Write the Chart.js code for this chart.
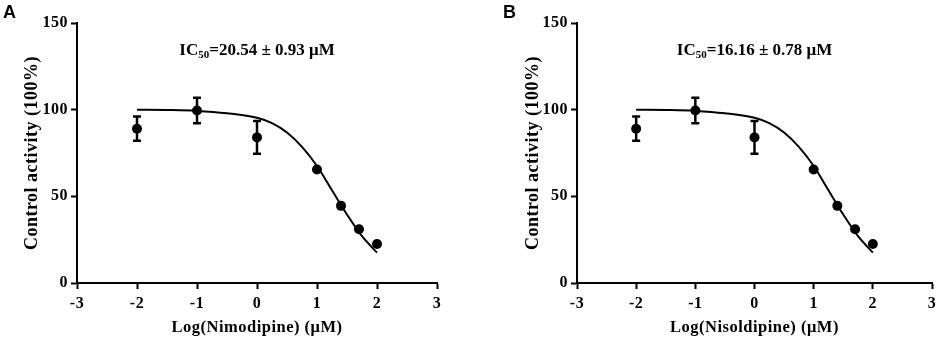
<!DOCTYPE html>
<html>
<head>
<meta charset="utf-8">
<script src="https://cdn.jsdelivr.net/npm/chart.js@4.4.0/dist/chart.umd.min.js"></script>
<style>
    html, body { margin: 0; padding: 0; background: #fff; }
    #wrap { position: relative; width: 941px; height: 338px; overflow: hidden; }
    canvas { position: absolute; top: 0; }
    #chartA { left: 0; }
    #chartB { left: 470px; }
    .panel-letter {
        position: absolute;
        top: 2px;
        font-family: "Liberation Sans", Arial, sans-serif;
        font-weight: bold;
        font-size: 18px;
        line-height: 20px;
        color: #000;
    }
</style>
</head>
<body>
<div id="wrap">
    <canvas id="chartA" width="470" height="338"></canvas>
    <canvas id="chartB" width="471" height="338"></canvas>
    <div class="panel-letter" style="left:3px">A</div>
    <div class="panel-letter" style="left:503px">B</div>
</div>
<script>
// measured points (log concentration, % of control, SD)
const doseLog = [-2, -1, 0, 1, 1.4, 1.7, 2];
const meanActivity = [89, 99.5, 84, 65.5, 44.5, 31, 22.5];
const sdActivity = [7, 7.4, 9.4, 0, 0, 0, 0];

// fitted curves
const fitLog = [-2, -1.5, -1, -0.5, 0, 0.25, 0.5, 0.75, 1, 1.25, 1.5, 1.75, 2];
const fitNimodipine = [100, 99.8, 99.3, 97.9, 95.3, 92.2, 86.8, 78.5, 67.5, 53.5, 39.5, 27, 17.5];
const fitNisoldipine = [100, 99.8, 99.3, 97.9, 95.3, 92.2, 86.8, 78.5, 67.5, 53.5, 39.5, 27, 17.5];

const xTicks = [-3, -2, -1, 0, 1, 2, 3];
const yTicks = [0, 50, 100, 150];

const serif = '"Liberation Serif", "Times New Roman", serif';

window.addEventListener('load', () => {
    buildDoseChart('chartA', fitNimodipine, 'Log(Nimodipine) (μM)', '=20.54 ± 0.93 μM', 77, 33, 22);
    buildDoseChart('chartB', fitNisoldipine, 'Log(Nisoldipine) (μM)', '=16.16 ± 0.78 μM', 107, 5, 53);
});

// the original lettering is a little spaced out
const spacingPlugin = {
    id: 'spacing',
    beforeDraw(chart) {
        chart.ctx.letterSpacing = '0.5px';
    }
};

const errorBarPlugin = {
    id: 'errorBars',
    afterDatasetsDraw(chart) {
        const ctx = chart.ctx;
        const xs = chart.scales.x;
        const ys = chart.scales.y;
        ctx.save();
        ctx.strokeStyle = '#000';
        ctx.lineWidth = 2.5;
        doseLog.forEach((d, i) => {
            if (!sdActivity[i]) return;
            const px = xs.getPixelForValue(d);
            const top = ys.getPixelForValue(meanActivity[i] + sdActivity[i]);
            const bot = ys.getPixelForValue(meanActivity[i] - sdActivity[i]);
            ctx.beginPath();
            ctx.moveTo(px, top);
            ctx.lineTo(px, bot);
            ctx.moveTo(px - 4, top);
            ctx.lineTo(px + 4, top);
            ctx.moveTo(px - 4, bot);
            ctx.lineTo(px + 4, bot);
            ctx.stroke();
        });
        ctx.restore();
    }
};

const icLabelPlugin = {
    id: 'icLabel',
    afterDraw(chart, args, opts) {
        const ctx = chart.ctx;
        const area = chart.chartArea;
        const big = 'bold 17px ' + serif;
        const small = 'bold 11px ' + serif;
        ctx.save();
        ctx.letterSpacing = '0px';
        ctx.fillStyle = '#000';
        ctx.textBaseline = 'alphabetic';
        ctx.font = big;
        const w1 = ctx.measureText('IC').width;
        const w3 = ctx.measureText(opts.rest).width;
        ctx.font = small;
        const w2 = ctx.measureText('50').width;
        let x = (area.left + area.right) / 2 - (w1 + w2 + w3) / 2;
        const y = area.top + 32;
        ctx.font = big;
        ctx.fillText('IC', x, y);
        x += w1;
        ctx.font = small;
        ctx.fillText('50', x, y + 3);
        x += w2;
        ctx.font = big;
        ctx.fillText(opts.rest, x, y);
        ctx.restore();
    }
};

function buildDoseChart(canvasId, fitValues, xTitle, icText, yAxisWidth, rightPad, yTitlePad) {
    const chartCtx = document.getElementById(canvasId).getContext('2d');

    return new Chart(chartCtx, {
        type: 'scatter',
        data: {
            datasets: [{
                type: 'line',
                data: fitLog.map((x, i) => ({ x: x, y: fitValues[i] })),
                borderColor: '#000',
                borderWidth: 2,
                pointRadius: 0,
                cubicInterpolationMode: 'monotone',
                fill: false
            }, {
                type: 'scatter',
                data: doseLog.map((x, i) => ({ x: x, y: meanActivity[i] })),
                backgroundColor: '#000',
                borderColor: '#000',
                pointRadius: 5,
                pointBorderWidth: 0
            }]
        },
        options: {
            responsive: false,
            animation: false,
            events: [],
            layout: {
                padding: { top: 23, right: rightPad, bottom: 0, left: 0 }
            },
            plugins: {
                legend: { display: false },
                tooltip: { enabled: false },
                icLabel: { rest: icText }
            },
            scales: {
                x: {
                    type: 'linear',
                    min: -3,
                    max: 3,
                    afterBuildTicks: scale => { scale.ticks = xTicks.map(v => ({ value: v })); },
                    afterFit: scale => { scale.height = 55; },
                    grid: {
                        drawOnChartArea: false,
                        drawTicks: true,
                        tickLength: 6,
                        tickWidth: 2,
                        tickColor: '#000'
                    },
                    border: { display: true, color: '#000', width: 2 },
                    ticks: {
                        color: '#000',
                        padding: 5,
                        maxRotation: 0,
                        font: { family: serif, size: 16, weight: 'bold' }
                    },
                    title: {
                        display: true,
                        text: xTitle,
                        color: '#000',
                        padding: 0,
                        font: { family: serif, size: 16.5, weight: 'bold' }
                    }
                },
                y: {
                    type: 'linear',
                    min: 0,
                    max: 150,
                    afterBuildTicks: scale => { scale.ticks = yTicks.map(v => ({ value: v })); },
                    afterFit: scale => { scale.width = yAxisWidth; },
                    grid: {
                        drawOnChartArea: false,
                        drawTicks: true,
                        tickLength: 6,
                        tickWidth: 2,
                        tickColor: '#000'
                    },
                    border: { display: true, color: '#000', width: 2 },
                    ticks: {
                        color: '#000',
                        padding: 3,
                        font: { family: serif, size: 16, weight: 'bold' }
                    },
                    title: {
                        display: true,
                        text: 'Control activity (100%)',
                        color: '#000',
                        padding: { top: yTitlePad, bottom: 0 },
                        font: { family: serif, size: 18, weight: 'bold' }
                    }
                }
            }
        },
        plugins: [spacingPlugin, errorBarPlugin, icLabelPlugin]
    });
}
</script>
</body>
</html>
